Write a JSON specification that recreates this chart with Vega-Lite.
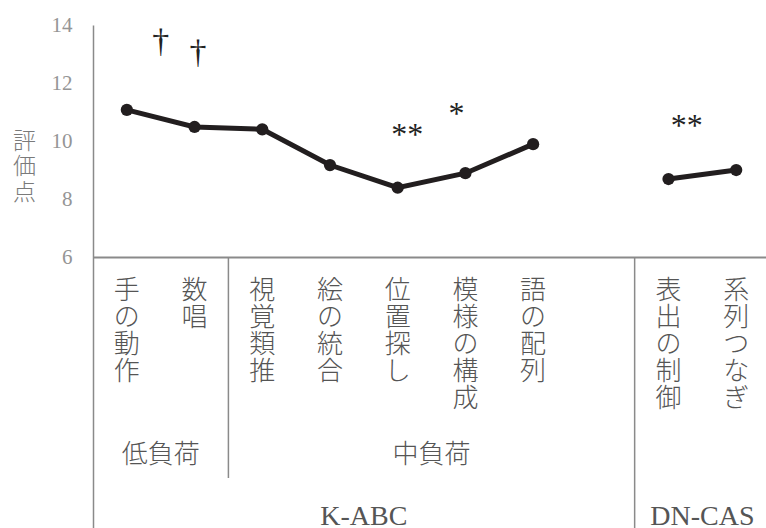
{
  "$schema": "https://vega.github.io/schema/vega-lite/v6.json",
  "width": 673,
  "height": 503,
  "autosize": {"type": "none"},
  "padding": {"left": 93, "top": 25, "right": 0, "bottom": 0},
  "config": {"view": {"stroke": null}, "font": "Noto Sans CJK JP"},
  "datasets": {
    "scores": [
      {"slot": 0, "test": "手の動作", "load": "低負荷", "battery": "K-ABC", "score": 11.08},
      {"slot": 1, "test": "数唱", "load": "低負荷", "battery": "K-ABC", "score": 10.49},
      {"slot": 2, "test": "視覚類推", "load": "中負荷", "battery": "K-ABC", "score": 10.41},
      {"slot": 3, "test": "絵の統合", "load": "中負荷", "battery": "K-ABC", "score": 9.18},
      {"slot": 4, "test": "位置探し", "load": "中負荷", "battery": "K-ABC", "score": 8.40},
      {"slot": 5, "test": "模様の構成", "load": "中負荷", "battery": "K-ABC", "score": 8.90},
      {"slot": 6, "test": "語の配列", "load": "中負荷", "battery": "K-ABC", "score": 9.90},
      {"slot": 8, "test": "表出の制御", "load": "", "battery": "DN-CAS", "score": 8.70},
      {"slot": 9, "test": "系列つなぎ", "load": "", "battery": "DN-CAS", "score": 9.01}
    ],
    "daggers": [
      {"slot": 0.5, "sig": "†", "level": 13.4},
      {"slot": 1.05, "sig": "†", "level": 13.02}
    ],
    "stars": [
      {"slot": 4.14, "sig": "**", "level": 10.22},
      {"slot": 4.87, "sig": "*", "level": 10.94},
      {"slot": 8.27, "sig": "**", "level": 10.51}
    ],
    "loads": [
      {"load": "低負荷", "mid": 0.5},
      {"load": "中負荷", "mid": 4.5}
    ],
    "batteries": [
      {"battery": "K-ABC", "mid": 3.5},
      {"battery": "DN-CAS", "mid": 8.5}
    ]
  },
  "layer": [
    {
      "data": {"name": "scores"},
      "mark": {"type": "line", "color": "#221e1f", "strokeWidth": 5},
      "encoding": {
        "x": {"field": "slot", "type": "quantitative", "scale": {"domain": [-0.5, 9.44], "nice": false, "zero": false}, "axis": null},
        "y": {
          "field": "score",
          "type": "quantitative",
          "scale": {"domain": [-3.31, 14], "nice": false, "zero": false},
          "axis": {
            "values": [6, 8, 10, 12, 14],
            "ticks": false,
            "grid": false,
            "labelFont": "Liberation Serif",
            "labelFontSize": 21,
            "labelColor": "#959595",
            "labelPadding": 21,
            "domainColor": "#8a8a8a",
            "domainWidth": 1.5,
            "title": ["評", "価", "点"],
            "titleAngle": 0,
            "titleFont": "Noto Sans CJK JP",
            "titleFontSize": 23,
            "titleFontWeight": 300,
            "titleColor": "#7a7a7a",
            "titleLineHeight": 25.5,
            "titleX": -69,
            "titleY": 116,
            "titleAlign": "center",
            "titleBaseline": "middle"
          }
        },
        "detail": {"field": "battery", "type": "nominal"}
      }
    },
    {
      "data": {"name": "scores"},
      "mark": {"type": "point", "shape": "circle", "filled": true, "opacity": 1, "size": 150, "color": "#221e1f"},
      "encoding": {
        "x": {"field": "slot", "type": "quantitative"},
        "y": {"field": "score", "type": "quantitative"}
      }
    },
    {
      "data": {"name": "daggers"},
      "mark": {"type": "text", "font": "Liberation Serif", "fontSize": 34, "color": "#222222", "align": "center", "baseline": "middle"},
      "encoding": {
        "x": {"field": "slot", "type": "quantitative"},
        "y": {"field": "level", "type": "quantitative"},
        "text": {"field": "sig", "type": "nominal"}
      }
    },
    {
      "data": {"name": "stars"},
      "mark": {"type": "text", "font": "Liberation Serif", "fontSize": 32, "color": "#222222", "align": "center", "baseline": "middle"},
      "encoding": {
        "x": {"field": "slot", "type": "quantitative"},
        "y": {"field": "level", "type": "quantitative"},
        "text": {"field": "sig", "type": "nominal"}
      }
    },
    {
      "data": {"values": [{}]},
      "mark": {"type": "rule", "color": "#8a8a8a", "strokeWidth": 2},
      "encoding": {"y": {"datum": 6}}
    },
    {
      "data": {"values": [{}]},
      "mark": {"type": "rule", "color": "#8a8a8a", "strokeWidth": 1.5},
      "encoding": {"x": {"datum": 1.5}, "y": {"datum": 6}, "y2": {"datum": -1.59}}
    },
    {
      "data": {"values": [{}]},
      "mark": {"type": "rule", "color": "#8a8a8a", "strokeWidth": 1.5},
      "encoding": {"x": {"datum": 7.5}, "y": {"datum": 6}, "y2": {"datum": -3.31}}
    },
    {
      "data": {"name": "scores"},
      "transform": [{"calculate": "split(datum.test, '')", "as": "chars"}],
      "mark": {"type": "text", "fontSize": 26, "fontWeight": 300, "lineHeight": 27, "color": "#555555", "align": "center", "baseline": "top"},
      "encoding": {
        "x": {"field": "slot", "type": "quantitative"},
        "y": {"datum": 5.3},
        "text": {"field": "chars", "type": "nominal"}
      }
    },
    {
      "data": {"name": "loads"},
      "mark": {"type": "text", "fontSize": 26, "fontWeight": 300, "color": "#555555", "align": "center", "baseline": "middle"},
      "encoding": {
        "x": {"field": "mid", "type": "quantitative"},
        "y": {"datum": -0.81},
        "text": {"field": "load", "type": "nominal"}
      }
    },
    {
      "data": {"name": "batteries"},
      "mark": {"type": "text", "font": "Liberation Serif", "fontSize": 28, "color": "#555555", "align": "center", "baseline": "alphabetic"},
      "encoding": {
        "x": {"field": "mid", "type": "quantitative"},
        "y": {"datum": -3.2},
        "text": {"field": "battery", "type": "nominal"}
      }
    }
  ]
}
